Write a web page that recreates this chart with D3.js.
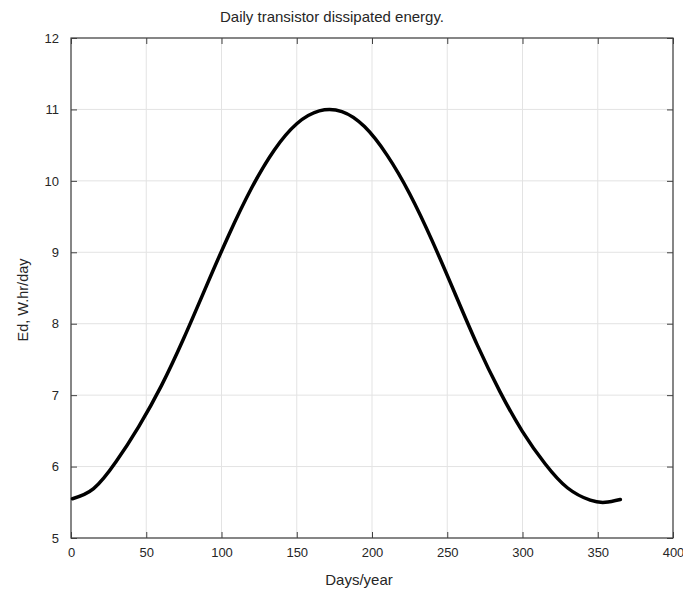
<!DOCTYPE html>
<html>
<head>
<meta charset="utf-8">
<script src="https://cdn.jsdelivr.net/npm/d3@7.9.0/dist/d3.min.js"></script>
<style>
  body { margin: 0; background: #fff; }
  svg text { font-family: "Liberation Sans", Arial, sans-serif; fill: #262626; }
</style>
</head>
<body>
<svg id="chart" width="683" height="592"></svg>
<script>
// data
const days = [1, 15, 30, 45, 60, 75, 90, 105, 120, 135, 150, 165, 180, 195, 210, 225, 240, 255, 270, 285, 300, 315, 330, 345, 355, 365];
const energy = [5.55, 5.69, 6.07, 6.56, 7.13, 7.80, 8.53, 9.25, 9.90, 10.43, 10.80, 10.98, 10.97, 10.76, 10.36, 9.82, 9.16, 8.43, 7.70, 7.05, 6.49, 6.04, 5.70, 5.53, 5.50, 5.54];
const xTicks = [0, 50, 100, 150, 200, 250, 300, 350, 400];
const yTicks = [5, 6, 7, 8, 9, 10, 11, 12];

const svg = d3.select("#chart");
const margin = { left: 71, right: 10, top: 38, bottom: 54 };
const W = 683, H = 592;

const x = d3.scaleLinear().domain([0, 400]).range([margin.left, W - margin.right]);
const y = d3.scaleLinear().domain([5, 12]).range([H - margin.bottom, margin.top]);

// grid
svg.append("g").selectAll("line").data(xTicks).join("line")
  .attr("x1", d => x(d)).attr("x2", d => x(d))
  .attr("y1", y(5)).attr("y2", y(12))
  .attr("stroke", "#e3e3e3").attr("stroke-width", 1);
svg.append("g").selectAll("line").data(yTicks).join("line")
  .attr("x1", x(0)).attr("x2", x(400))
  .attr("y1", d => y(d)).attr("y2", d => y(d))
  .attr("stroke", "#e3e3e3").attr("stroke-width", 1);

// axes (ticks inward)
const tickLen = 6;
svg.append("g").attr("transform", `translate(0,${y(5)})`)
  .call(d3.axisBottom(x).tickValues(xTicks).tickSize(-tickLen).tickPadding(10))
  .call(g => g.select(".domain").remove());
svg.append("g").attr("transform", `translate(0,${y(12)})`)
  .call(d3.axisTop(x).tickValues(xTicks).tickSize(-tickLen).tickFormat(""))
  .call(g => g.select(".domain").remove());
svg.append("g").attr("transform", `translate(${x(0)},0)`)
  .call(d3.axisLeft(y).tickValues(yTicks).tickSize(-tickLen).tickPadding(12).tickFormat(d3.format("d")))
  .call(g => g.select(".domain").remove());
svg.append("g").attr("transform", `translate(${x(400)},0)`)
  .call(d3.axisRight(y).tickValues(yTicks).tickSize(-tickLen).tickFormat(""))
  .call(g => g.select(".domain").remove());

svg.selectAll(".tick line").attr("stroke", "#404040");
svg.selectAll(".tick text").attr("font-size", 13).attr("fill", "#262626")
  .style("font-family", "'Liberation Sans', Arial, sans-serif");

// box
svg.append("rect")
  .attr("x", x(0)).attr("y", y(12))
  .attr("width", x(400) - x(0)).attr("height", y(5) - y(12))
  .attr("fill", "none").attr("stroke", "#404040").attr("stroke-width", 1.2);

// curve
const line = d3.line()
  .x((d, i) => x(days[i]))
  .y(d => y(d))
  .curve(d3.curveNatural);
svg.append("path").datum(energy)
  .attr("d", line)
  .attr("fill", "none").attr("stroke", "#000").attr("stroke-width", 3.5)
  .attr("stroke-linecap", "round");

// labels
svg.append("text").attr("x", 332).attr("y", 22)
  .attr("text-anchor", "middle").attr("font-size", 15).attr("fill", "#000")
  .text("Daily transistor dissipated energy.");
svg.append("text").attr("x", 359).attr("y", 585)
  .attr("text-anchor", "middle").attr("font-size", 15)
  .text("Days/year");
svg.append("text")
  .attr("transform", `translate(28,300) rotate(-90)`)
  .attr("text-anchor", "middle").attr("font-size", 14.5)
  .text("Ed, W.hr/day");
</script>
</body>
</html>
